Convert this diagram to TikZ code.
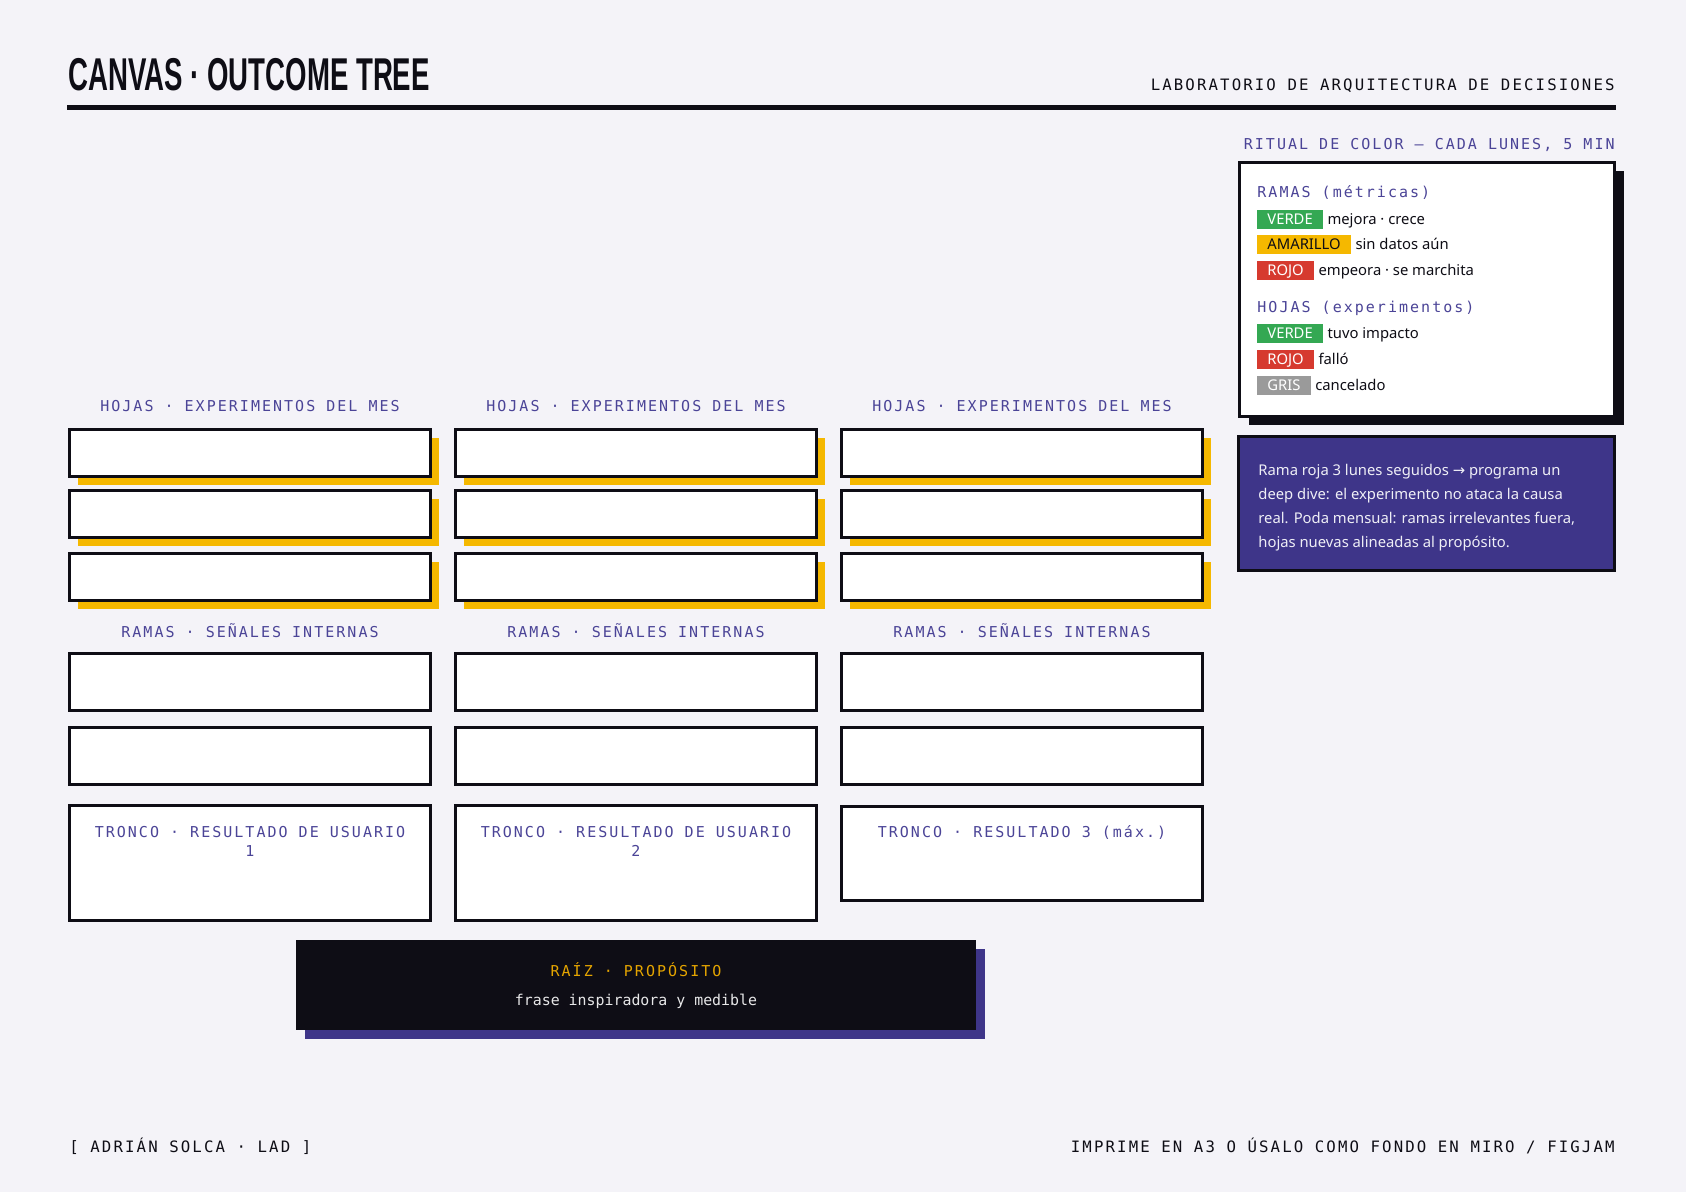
\documentclass[tikz,border=0pt]{standalone}
\usepackage{fontspec}
\usetikzlibrary{positioning,shadows}
\setmainfont{Noto Sans}
\newfontfamily\labfont[LetterSpace=13.5]{DejaVu Sans Mono}
\newfontfamily\plainmono{DejaVu Sans Mono}
\newfontfamily\titlefont[FakeStretch=0.6]{Liberation Sans}
\newfontfamily\arrowfont{DejaVu Sans}
\definecolor{bgc}{HTML}{F4F3F8}
\definecolor{ink}{HTML}{0E0D15}
\definecolor{labc}{HTML}{4B4497}
\definecolor{plum}{HTML}{3E3589}
\definecolor{sun}{HTML}{F5B800}
\definecolor{gold}{HTML}{E5A500}
\definecolor{leafgreen}{HTML}{34A853}
\definecolor{redc}{HTML}{D63A2F}
\definecolor{greyc}{HTML}{9A9A9A}

\begin{document}
\begin{tikzpicture}[x=0.5pt,y=-0.5pt,
	lab/.style={font=\labfont\fontsize{7.5}{9.5}\selectfont, text=labc, inner sep=0},
	bigmono/.style={font=\labfont\fontsize{7.85}{9}\selectfont, text=ink, inner sep=0},
	cell/.style={draw=ink, line width=1.5pt, fill=white, minimum width=180.5pt, inner sep=0},
	leafcell/.style={cell, minimum height=23.5pt, drop shadow={shadow xshift=4.25pt, shadow yshift=-4.25pt, fill=sun, opacity=1}},
	badge/.style={anchor=west, minimum height=9.5pt, text height=5.4pt, text depth=1.2pt, inner xsep=5pt, inner ysep=0, font=\fontsize{7.4}{9}\selectfont},
	desc/.style={inner sep=0, font=\fontsize{7.4}{9}\selectfont, text=ink}]
		\fill[bgc] (0,0) rectangle (1686,1192);
		\useasboundingbox (0,0) rectangle (1686,1192);
		\node[anchor=base west, inner sep=0, font=\titlefont\bfseries\fontsize{23}{26}\selectfont, text=ink] (title) at (68,91) {CANVAS · OUTCOME TREE};
		\node[bigmono, anchor=base east] (lad) at (1615,90.5) {LABORATORIO DE ARQUITECTURA DE DECISIONES};
		\draw[ink, line width=2.35pt] (67,107.5) -- (1616,107.5);
		\foreach \c/\x in {1/250,2/636,3/1022} {
			\node[lab] (hojas-\c) at (\x,406.5) {HOJAS · EXPERIMENTOS DEL MES};
			\foreach \r/\y in {1/453.3,2/514.3,3/577.3} \node[leafcell] (hoja-\c-\r) at (\x,\y) {};
			\node[lab] (ramas-\c) at (\x,630.5) {RAMAS · SEÑALES INTERNAS};
			\foreach \r/\y in {1/681.7,2/755.8} \node[cell, minimum height=28.5pt] (rama-\c-\r) at (\x,\y) {};
		}
		\node[cell, minimum height=57.2pt] (tronco-1) at (250,863) {};
		\node[cell, minimum height=57.2pt] (tronco-2) at (636,863) {};
		\node[cell, minimum height=47pt] (tronco-3) at (1022,853.5) {};
		\node[lab, align=center, anchor=north] (tronco-lab-1) at ([yshift=-11pt]tronco-1.north) {TRONCO · RESULTADO DE USUARIO\\1};
		\node[lab, align=center, anchor=north] (tronco-lab-2) at ([yshift=-11pt]tronco-2.north) {TRONCO · RESULTADO DE USUARIO\\2};
		\node[lab, anchor=north] (tronco-lab-3) at ([yshift=-10pt]tronco-3.north) {TRONCO · RESULTADO 3 (máx.)};
		\node[fill=ink, minimum width=340pt, minimum height=45pt, drop shadow={shadow xshift=4.5pt, shadow yshift=-4.5pt, fill=plum, opacity=1}] (raiz) at (636,985) {};
		\node[lab, text=gold] (raiz-lab) at (636,970) {RAÍZ · PROPÓSITO};
		\node[inner sep=0, font=\plainmono\fontsize{7.45}{9}\selectfont, text=white!90!ink] (raiz-txt) at (636,1001) {frase inspiradora y medible};
		\node[lab, anchor=base east] (ritual) at (1615,149.5) {RITUAL DE COLOR — CADA LUNES, 5 MIN};
		\node[draw=ink, line width=1.5pt, fill=white, minimum width=187.5pt, minimum height=127pt, drop shadow={shadow xshift=4.5pt, shadow yshift=-4.5pt, fill=ink, opacity=1}] (leyenda) at (1427,289.5) {};
		\node[lab, anchor=west] (ramas-key) at (1257,192) {RAMAS (métricas)};
		\node[lab, anchor=west] (hojas-key) at (1257,308) {HOJAS (experimentos)};
		\foreach \n/\y/\c/\k/\t/\d in {a/220/leafgreen/white/VERDE/{mejora · crece},b/245/sun/ink/AMARILLO/{sin datos aún},c/271/redc/white/ROJO/{empeora · se marchita},d/334/leafgreen/white/VERDE/{tuvo impacto},e/360/redc/white/ROJO/{falló},f/386/greyc/white/GRIS/{cancelado}} {
			\node[badge, fill=\c, text=\k] (badge-\n) at (1257,\y) {\t};
			\node[desc, base right=2pt of badge-\n] (desc-\n) {\d};
		}
		\node[draw=ink, line width=1.5pt, fill=plum, minimum width=188pt, minimum height=67pt] (nota) at (1426.5,503.5) {};
		\node[anchor=west, align=left, inner sep=0, text=white!92!plum, font=\fontsize{7.4}{12}\selectfont] (nota-txt) at ([xshift=10.5pt,yshift=-2.2pt]nota.west) {Rama roja 3 lunes seguidos {\arrowfont →} programa un\\deep dive: el experimento no ataca la causa\\real. Poda mensual: ramas irrelevantes fuera,\\hojas nuevas alineadas al propósito.};
		\node[bigmono, anchor=base west] (firma) at (69,1152.5) {[ ADRIÁN SOLCA · LAD ]};
		\node[bigmono, anchor=base east] (uso) at (1615,1152.5) {IMPRIME EN A3 O ÚSALO COMO FONDO EN MIRO / FIGJAM};
	\end{tikzpicture}
\end{document}
